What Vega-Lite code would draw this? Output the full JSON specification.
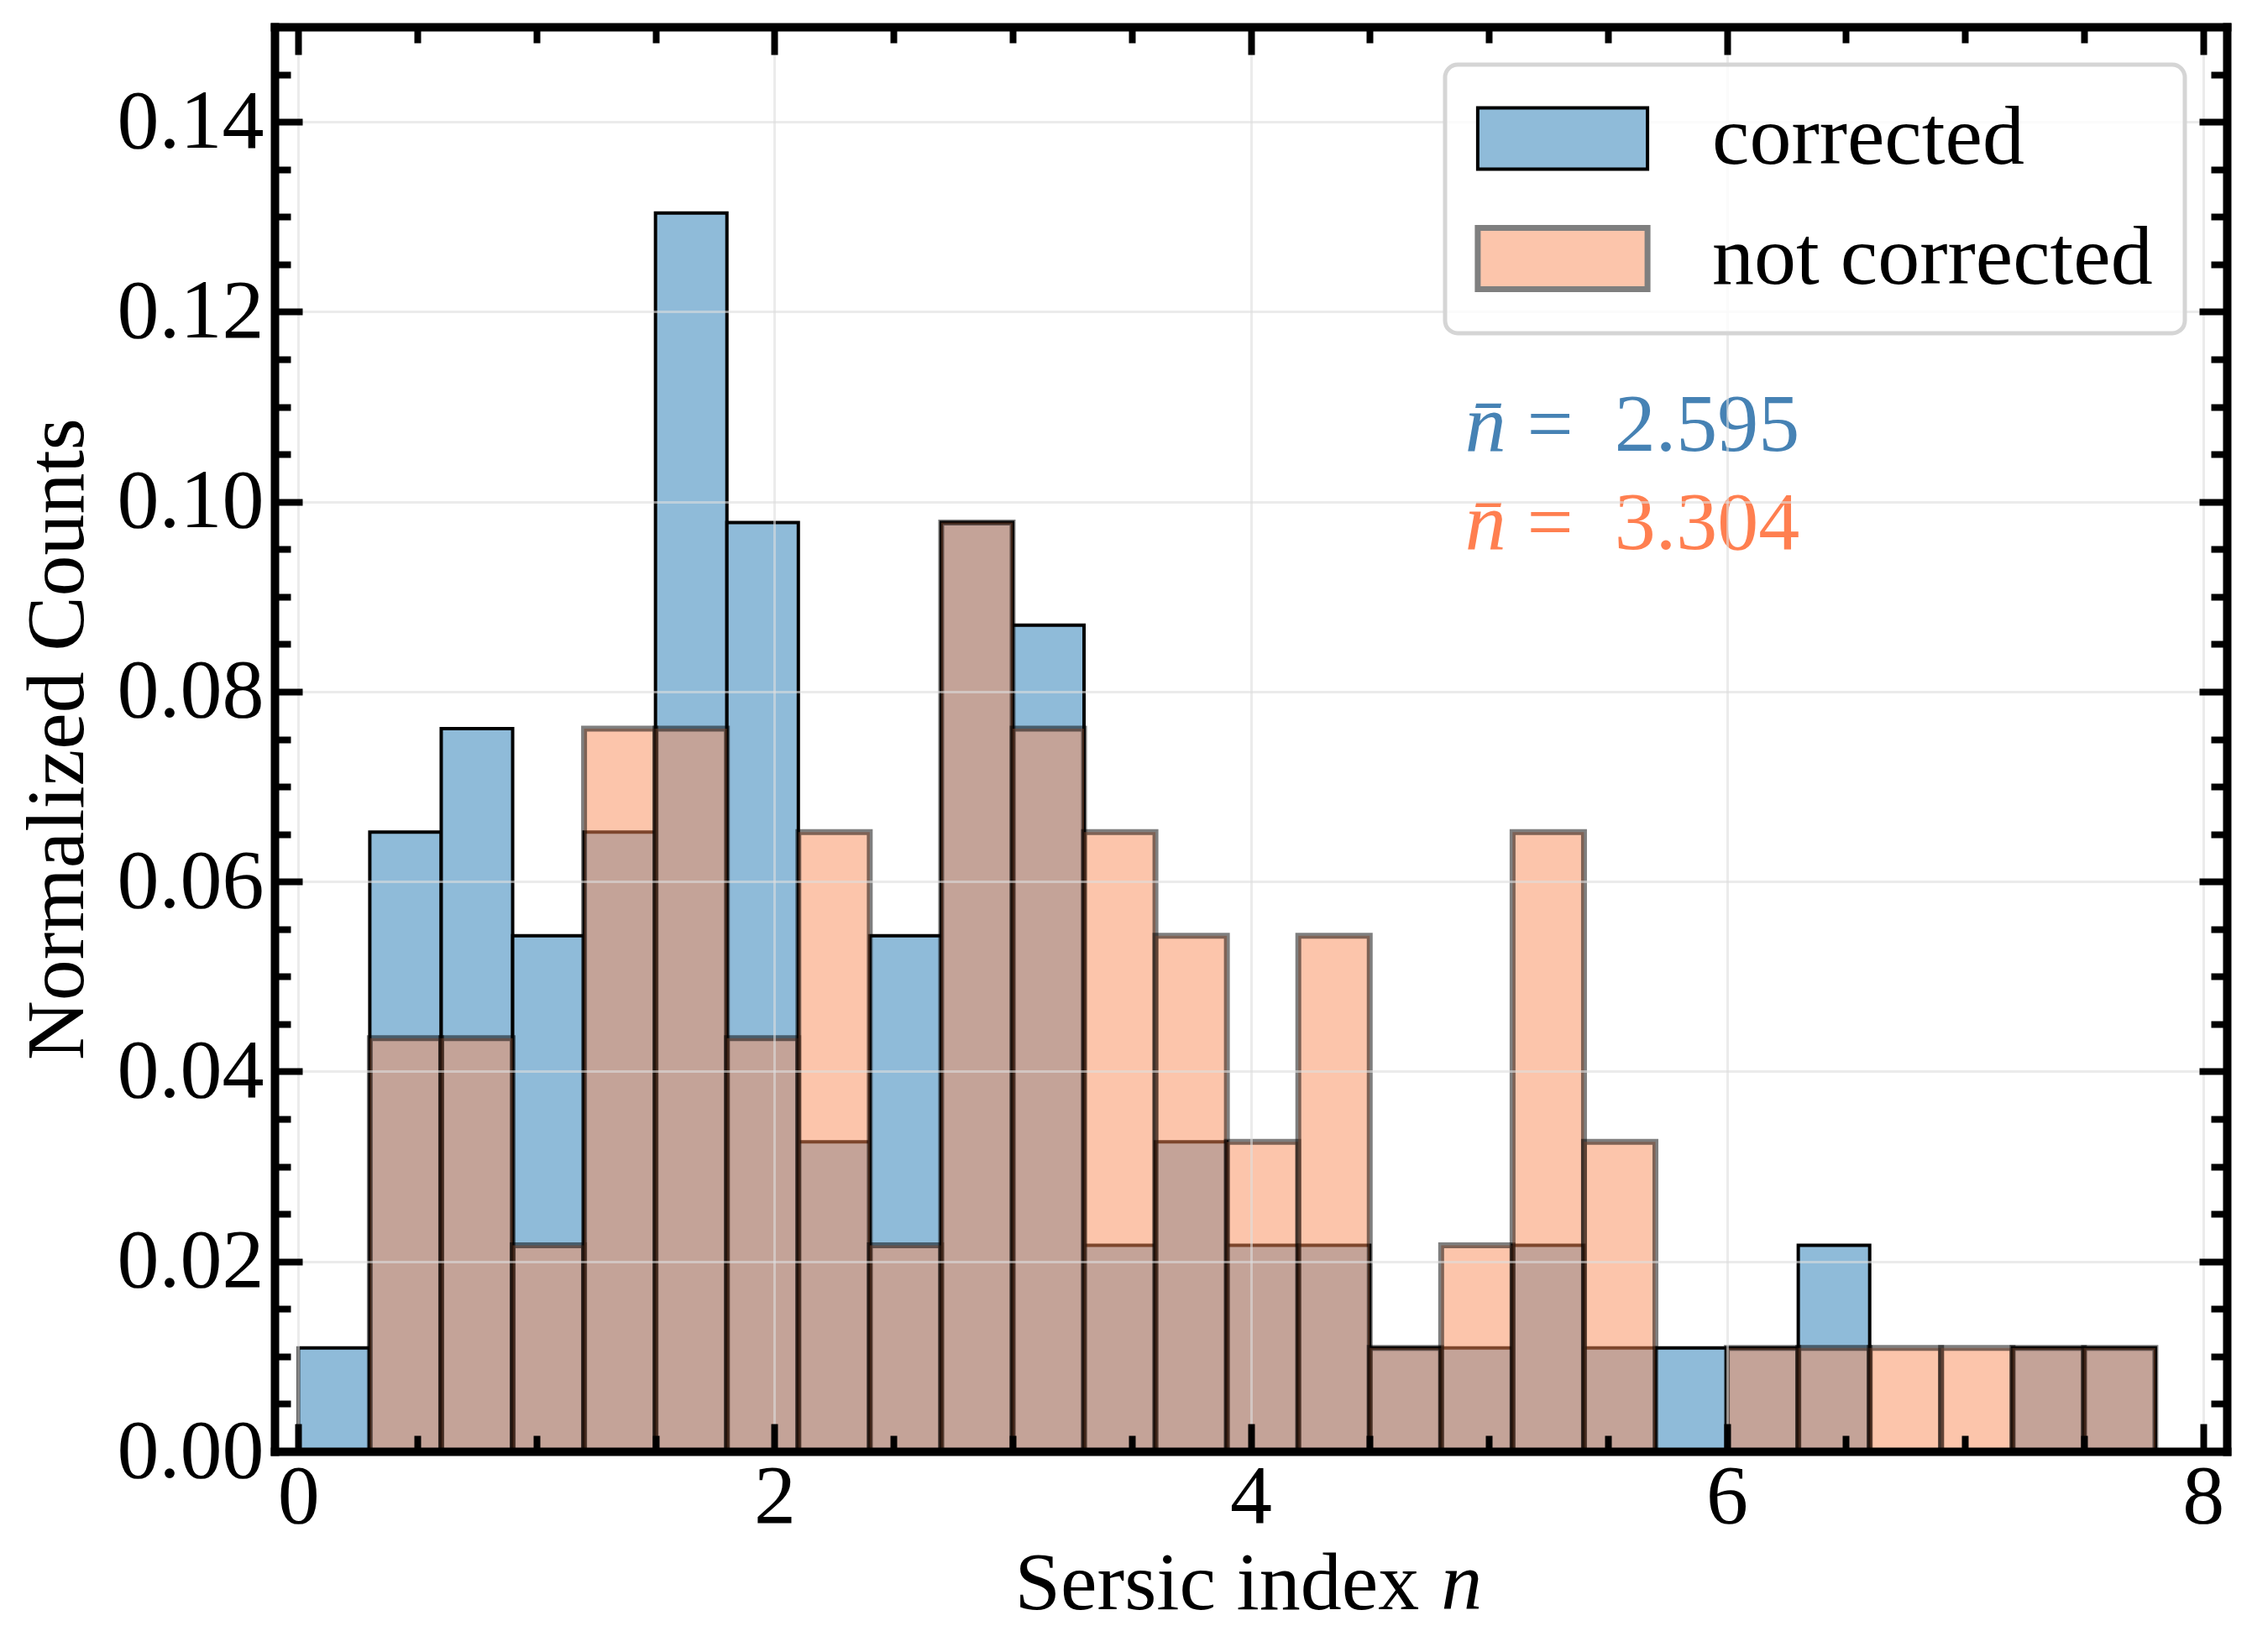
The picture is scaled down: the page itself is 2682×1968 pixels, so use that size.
{
  "$schema": "https://vega.github.io/schema/vega-lite/v6.json",
  "width": 2325,
  "height": 1697,
  "autosize": {"type": "none"},
  "padding": {"left": 327, "top": 32, "right": 30, "bottom": 239},
  "background": "white",
  "config": {
    "view": {"stroke": null},
    "font": "Liberation Serif",
    "axis": {"tickColor": "black", "labelColor": "black", "titleColor": "black"},
    "legend": {"strokeWidth": 5}
  },
  "data": {
    "values": [
      {"start": 0.0, "end": 0.3, "series": "corrected", "value": 0.0109},
      {"start": 0.3, "end": 0.6, "series": "corrected", "value": 0.0652},
      {"start": 0.6, "end": 0.9, "series": "corrected", "value": 0.0761},
      {"start": 0.9, "end": 1.2, "series": "corrected", "value": 0.0543},
      {"start": 1.2, "end": 1.5, "series": "corrected", "value": 0.0652},
      {"start": 1.5, "end": 1.8, "series": "corrected", "value": 0.1304},
      {"start": 1.8, "end": 2.1, "series": "corrected", "value": 0.0978},
      {"start": 2.1, "end": 2.4, "series": "corrected", "value": 0.0326},
      {"start": 2.4, "end": 2.7, "series": "corrected", "value": 0.0543},
      {"start": 2.7, "end": 3.0, "series": "corrected", "value": 0.0978},
      {"start": 3.0, "end": 3.3, "series": "corrected", "value": 0.0870},
      {"start": 3.3, "end": 3.6, "series": "corrected", "value": 0.0217},
      {"start": 3.6, "end": 3.9, "series": "corrected", "value": 0.0326},
      {"start": 3.9, "end": 4.2, "series": "corrected", "value": 0.0217},
      {"start": 4.2, "end": 4.5, "series": "corrected", "value": 0.0217},
      {"start": 4.5, "end": 4.8, "series": "corrected", "value": 0.0109},
      {"start": 4.8, "end": 5.1, "series": "corrected", "value": 0.0109},
      {"start": 5.1, "end": 5.4, "series": "corrected", "value": 0.0217},
      {"start": 5.4, "end": 5.7, "series": "corrected", "value": 0.0109},
      {"start": 5.7, "end": 6.0, "series": "corrected", "value": 0.0109},
      {"start": 6.0, "end": 6.3, "series": "corrected", "value": 0.0109},
      {"start": 6.3, "end": 6.6, "series": "corrected", "value": 0.0217},
      {"start": 7.2, "end": 7.5, "series": "corrected", "value": 0.0109},
      {"start": 7.5, "end": 7.8, "series": "corrected", "value": 0.0109},
      {"start": 0.3, "end": 0.6, "series": "not corrected", "value": 0.0435},
      {"start": 0.6, "end": 0.9, "series": "not corrected", "value": 0.0435},
      {"start": 0.9, "end": 1.2, "series": "not corrected", "value": 0.0217},
      {"start": 1.2, "end": 1.5, "series": "not corrected", "value": 0.0761},
      {"start": 1.5, "end": 1.8, "series": "not corrected", "value": 0.0761},
      {"start": 1.8, "end": 2.1, "series": "not corrected", "value": 0.0435},
      {"start": 2.1, "end": 2.4, "series": "not corrected", "value": 0.0652},
      {"start": 2.4, "end": 2.7, "series": "not corrected", "value": 0.0217},
      {"start": 2.7, "end": 3.0, "series": "not corrected", "value": 0.0978},
      {"start": 3.0, "end": 3.3, "series": "not corrected", "value": 0.0761},
      {"start": 3.3, "end": 3.6, "series": "not corrected", "value": 0.0652},
      {"start": 3.6, "end": 3.9, "series": "not corrected", "value": 0.0543},
      {"start": 3.9, "end": 4.2, "series": "not corrected", "value": 0.0326},
      {"start": 4.2, "end": 4.5, "series": "not corrected", "value": 0.0543},
      {"start": 4.5, "end": 4.8, "series": "not corrected", "value": 0.0109},
      {"start": 4.8, "end": 5.1, "series": "not corrected", "value": 0.0217},
      {"start": 5.1, "end": 5.4, "series": "not corrected", "value": 0.0652},
      {"start": 5.4, "end": 5.7, "series": "not corrected", "value": 0.0326},
      {"start": 6.0, "end": 6.3, "series": "not corrected", "value": 0.0109},
      {"start": 6.3, "end": 6.6, "series": "not corrected", "value": 0.0109},
      {"start": 6.6, "end": 6.9, "series": "not corrected", "value": 0.0109},
      {"start": 6.9, "end": 7.2, "series": "not corrected", "value": 0.0109},
      {"start": 7.2, "end": 7.5, "series": "not corrected", "value": 0.0109},
      {"start": 7.5, "end": 7.8, "series": "not corrected", "value": 0.0109}
    ]
  },
  "resolve": {"axis": {"x": "independent", "y": "independent"}},
  "layer": [
    {
      "transform": [{"filter": "datum.series === 'corrected'"}],
      "mark": {"type": "bar"},
      "encoding": {
        "x": {
          "field": "start", "type": "quantitative",
          "scale": {"domain": [-0.1, 8.1], "nice": false, "zero": false},
          "axis": {
            "orient": "bottom", "values": [0, 2, 4, 6, 8],
            "tickSize": -33, "tickWidth": 8,
            "labelFont": "Liberation Serif", "labelFontSize": 100, "labelPadding": 38,
            "labelFlush": false, "labelOverlap": false,
            "grid": true, "gridColor": "#dddddd", "gridOpacity": 0.6, "gridWidth": 3,
            "domain": true, "domainColor": "black", "domainWidth": 10, "domainCap": "square",
            "title": "Sersic index", "titleFont": "Liberation Serif", "titleFontSize": 98,
            "titleFontWeight": "normal", "titleAlign": "left", "titleBaseline": "alphabetic",
            "titleX": 881, "titleY": 187, "zindex": 1
          }
        },
        "x2": {"field": "end"},
        "y": {
          "field": "value", "type": "quantitative",
          "scale": {"domain": [0, 0.15], "nice": false},
          "axis": {
            "orient": "left", "values": [0, 0.02, 0.04, 0.06, 0.08, 0.1, 0.12, 0.14], "format": ".2f",
            "tickSize": -33, "tickWidth": 8,
            "labelFont": "Liberation Serif", "labelFontSize": 100, "labelPadding": 46,
            "labelFlush": false, "labelOverlap": false,
            "grid": true, "gridColor": "#dddddd", "gridOpacity": 0.6, "gridWidth": 3,
            "domain": true, "domainColor": "black", "domainWidth": 10, "domainCap": "square",
            "title": "Normalized Counts", "titleFont": "Liberation Serif", "titleFontSize": 98,
            "titleFontWeight": "normal", "titleAngle": 270, "titleAlign": "center", "titleBaseline": "alphabetic",
            "titleX": -229, "titleY": 848, "zindex": 1
          }
        },
        "y2": {"datum": 0},
        "fill": {
          "field": "series", "type": "nominal",
          "scale": {"domain": ["corrected", "not corrected"], "range": ["#8fbbd9", "#fcc5ab"]},
          "legend": {
            "orient": "none", "legendX": 1394, "legendY": 45, "title": null, "direction": "vertical",
            "symbolType": "M-2.77,-1L2.77,-1L2.77,1L-2.77,1Z", "symbolSize": 5329, "symbolOffset": 52,
            "labelFont": "Liberation Serif", "labelFontSize": 100, "labelColor": "black",
            "labelLimit": 2000, "labelOffset": 128, "rowPadding": 42, "padding": 38,
            "cornerRadius": 15, "strokeColor": "#d5d5d5", "fillColor": "rgba(255,255,255,0.8)", "zindex": 2
          }
        },
        "stroke": {
          "field": "series", "type": "nominal",
          "scale": {"domain": ["corrected", "not corrected"], "range": ["#000000", "#7f7f7f"]}
        },
        "strokeWidth": {
          "field": "series", "type": "nominal",
          "scale": {"domain": ["corrected", "not corrected"], "range": [4, 7]}
        }
      }
    },
    {
      "transform": [{"filter": "datum.series === 'not corrected'"}],
      "mark": {"type": "bar", "fill": "#f98b57", "fillOpacity": 0.5, "stroke": "#000000", "strokeOpacity": 0.5, "strokeWidth": 7},
      "encoding": {
        "x": {
          "field": "start", "type": "quantitative",
          "axis": {
            "orient": "top", "values": [0, 2, 4, 6, 8], "tickSize": -33, "tickWidth": 8,
            "labels": false, "grid": false, "title": null,
            "domain": true, "domainColor": "black", "domainWidth": 10, "domainCap": "square", "zindex": 1
          }
        },
        "x2": {"field": "end"},
        "y": {
          "field": "value", "type": "quantitative",
          "axis": {
            "orient": "right", "values": [0, 0.02, 0.04, 0.06, 0.08, 0.1, 0.12, 0.14], "tickSize": -33, "tickWidth": 8,
            "labels": false, "grid": false, "title": null,
            "domain": true, "domainColor": "black", "domainWidth": 10, "domainCap": "square", "zindex": 1
          }
        },
        "y2": {"datum": 0}
      }
    },
    {
      "data": {"values": [{}]},
      "mark": {"type": "text", "text": "n\u0304", "font": "Liberation Serif", "fontStyle": "italic", "fontSize": 98, "align": "left", "baseline": "alphabetic", "fill": "#4682b4"},
      "encoding": {
        "x": {
          "datum": 4.9, "type": "quantitative",
          "axis": {
            "orient": "bottom", "values": [0.5, 1, 1.5, 2.5, 3, 3.5, 4.5, 5, 5.5, 6.5, 7, 7.5],
            "tickSize": -19, "tickWidth": 8, "labels": false, "grid": false, "domain": false, "title": null, "zindex": 1
          }
        },
        "y": {
          "datum": 0.1054, "type": "quantitative",
          "axis": {
            "orient": "left", "values": [0.005, 0.01, 0.015, 0.025, 0.03, 0.035, 0.045, 0.05, 0.055, 0.065, 0.07, 0.075, 0.085, 0.09, 0.095, 0.105, 0.11, 0.115, 0.125, 0.13, 0.135, 0.145],
            "tickSize": -19, "tickWidth": 8, "labels": false, "grid": false, "domain": false, "title": null, "zindex": 1
          }
        }
      }
    },
    {
      "data": {"values": [{}]},
      "mark": {"type": "text", "text": "=\u20022.595", "font": "Liberation Serif", "fontSize": 98, "align": "left", "baseline": "alphabetic", "fill": "#4682b4"},
      "encoding": {
        "x": {
          "datum": 5.16, "type": "quantitative",
          "axis": {
            "orient": "top", "values": [0.5, 1, 1.5, 2.5, 3, 3.5, 4.5, 5, 5.5, 6.5, 7, 7.5],
            "tickSize": -19, "tickWidth": 8, "labels": false, "grid": false, "domain": false, "title": null, "zindex": 1
          }
        },
        "y": {
          "datum": 0.1054, "type": "quantitative",
          "axis": {
            "orient": "right", "values": [0.005, 0.01, 0.015, 0.025, 0.03, 0.035, 0.045, 0.05, 0.055, 0.065, 0.07, 0.075, 0.085, 0.09, 0.095, 0.105, 0.11, 0.115, 0.125, 0.13, 0.135, 0.145],
            "tickSize": -19, "tickWidth": 8, "labels": false, "grid": false, "domain": false, "title": null, "zindex": 1
          }
        }
      }
    },
    {
      "data": {"values": [{}]},
      "mark": {"type": "text", "text": "n\u0304", "font": "Liberation Serif", "fontStyle": "italic", "fontSize": 98, "align": "left", "baseline": "alphabetic", "fill": "#ff7f50"},
      "encoding": {
        "x": {"datum": 4.9, "type": "quantitative", "axis": null},
        "y": {"datum": 0.095, "type": "quantitative", "axis": null}
      }
    },
    {
      "data": {"values": [{}]},
      "mark": {"type": "text", "text": "=\u20023.304", "font": "Liberation Serif", "fontSize": 98, "align": "left", "baseline": "alphabetic", "fill": "#ff7f50"},
      "encoding": {
        "x": {"datum": 5.16, "type": "quantitative", "axis": null},
        "y": {"datum": 0.095, "type": "quantitative", "axis": null}
      }
    },
    {
      "data": {"values": [{}]},
      "mark": {"type": "text", "text": "n", "font": "Liberation Serif", "fontStyle": "italic", "fontSize": 98, "align": "left", "baseline": "alphabetic", "fill": "#000000"},
      "encoding": {
        "x": {"datum": 4.8, "type": "quantitative", "axis": null},
        "y": {"datum": -0.0165, "type": "quantitative", "axis": null}
      }
    }
  ]
}
